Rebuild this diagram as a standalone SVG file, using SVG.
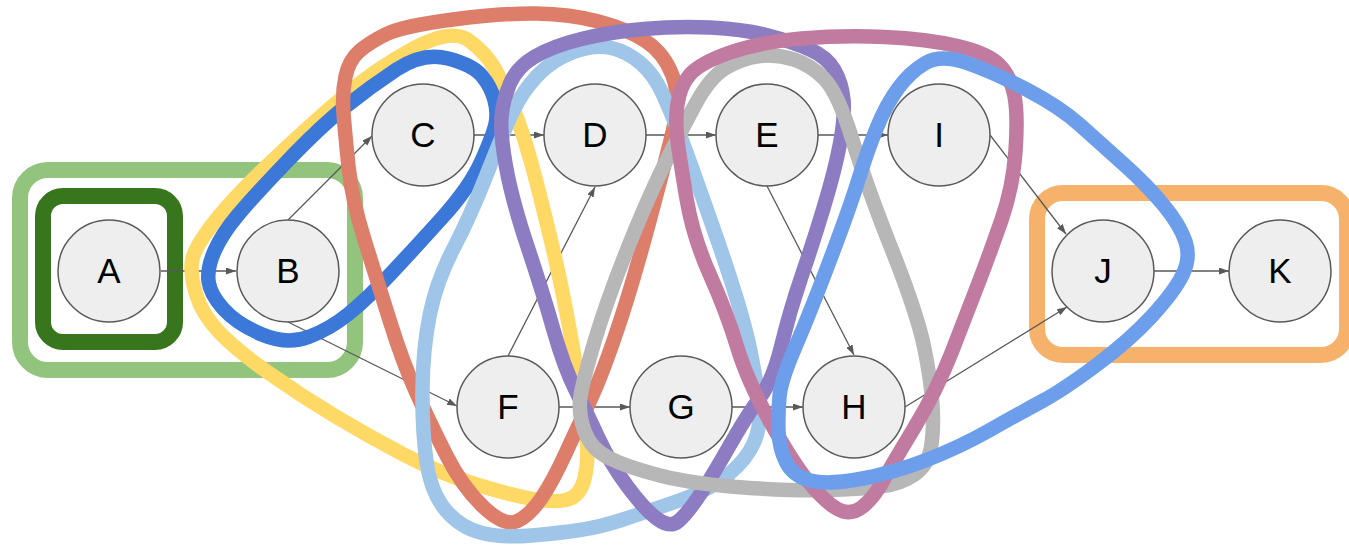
<svg xmlns="http://www.w3.org/2000/svg" width="1349" height="548" viewBox="0 0 1349 548">
<style>
.n circle{fill:#eeeeee;stroke:#595959;stroke-width:1.5}
.n text{font-family:"Liberation Sans",Arial,sans-serif;font-size:35px;fill:#000;text-anchor:middle}
.e line{stroke:#595959;stroke-width:1.3;fill:none;marker-end:url(#arr)}
.g{fill:none;stroke-width:14.5;stroke-linejoin:round}
.r{fill:none;stroke-width:16}
</style>
<defs>
<marker id="arr" markerUnits="userSpaceOnUse" markerWidth="11" markerHeight="8" refX="10" refY="3.5" orient="auto">
<path d="M0,0 L10,3.5 L0,7 z" fill="#595959"/>
</marker>
</defs>
<g id="groups-rect">
<rect id="grp-ab" class="r" x="20" y="170" width="335" height="200" rx="28" stroke="#93c47d"/>
<rect id="grp-a" class="r" x="43" y="196" width="132" height="146" rx="20" stroke="#38761d"/>
<rect id="grp-jk" class="r" x="1037" y="193" width="310" height="162" rx="26" stroke="#f6b26b"/>
</g>
<g id="connectors" class="e">
<line x1="161" y1="271" x2="236" y2="271"/>
<line x1="288" y1="220" x2="372" y2="136"/>
<line x1="288" y1="322" x2="457" y2="406"/>
<line x1="474" y1="135" x2="544" y2="135"/>
<line x1="508" y1="356" x2="595" y2="187"/>
<line x1="646" y1="135" x2="716" y2="135"/>
<line x1="559" y1="407" x2="630" y2="407"/>
<line x1="818" y1="135" x2="888" y2="135"/>
<line x1="767" y1="186" x2="854" y2="355"/>
<line x1="732" y1="407" x2="803" y2="407"/>
<line x1="905" y1="407" x2="1067" y2="307"/>
<line x1="990" y1="135" x2="1066" y2="234"/>
<line x1="1154" y1="271" x2="1229" y2="271"/>
</g>
<g id="A" class="n"><circle cx="109" cy="271" r="51"/><text x="109" y="283">A</text></g>
<g id="B" class="n"><circle cx="288" cy="271" r="51"/><text x="288" y="283">B</text></g>
<g id="C" class="n"><circle cx="423" cy="135" r="51"/><text x="423" y="147">C</text></g>
<g id="D" class="n"><circle cx="595" cy="135" r="51"/><text x="595" y="147">D</text></g>
<g id="E" class="n"><circle cx="767" cy="135" r="51"/><text x="767" y="147">E</text></g>
<g id="I" class="n"><circle cx="939" cy="135" r="51"/><text x="939" y="147">I</text></g>
<g id="F" class="n"><circle cx="508" cy="407" r="51"/><text x="508" y="419">F</text></g>
<g id="G" class="n"><circle cx="681" cy="407" r="51"/><text x="681" y="419">G</text></g>
<g id="H" class="n"><circle cx="854" cy="407" r="51"/><text x="854" y="419">H</text></g>
<g id="J" class="n"><circle cx="1103" cy="271" r="51"/><text x="1103" y="283">J</text></g>
<g id="K" class="n"><circle cx="1280" cy="271" r="51"/><text x="1280" y="283">K</text></g>
<g id="hulls">
<path id="hull-yellow" class="g" stroke="#ffd966" d="M192,261 Q190,274 196,294 Q202,314 219,332 Q236,350 269.5,373.5 Q303,397 336.5,417 Q370,437 403.5,454.5 Q437,472 470,482.5 Q503,493 527.5,498 Q552,503 566,500 Q580,497 584.5,478.5 Q589,460 586.5,436.5 Q584,413 573.5,351.5 Q563,290 550.5,238.5 Q538,187 530.5,160 Q523,133 513.5,109 Q504,85 495,69 Q486,53 469,40.5 Q452,28 414.5,48 Q377,68 343.5,96.5 Q310,125 271.5,161.5 Q233,198 213.5,223 Q194,248 192,261 Z"/>
<path id="hull-blue" class="g" stroke="#3c78d8" d="M208.5,281 Q207,268 214.5,251 Q222,234 237.5,215.5 Q253,197 286.5,162 Q320,127 345,107 Q370,87 396.5,69.5 Q423,52 448,58.5 Q473,65 482,76 Q491,87 494.5,100 Q498,113 495.5,124 Q493,135 481.5,161 Q470,187 441.5,218.5 Q413,250 390.5,274 Q368,298 349,313.5 Q330,329 308.5,337 Q287,345 262,334.5 Q237,324 223.5,309 Q210,294 208.5,281 Z"/>
<path id="hull-red" class="g" stroke="#dd7e6b" d="M348.5,166.5 Q345,133 343.5,113 Q342,93 345.5,76.5 Q349,60 359.5,51 Q370,42 386.5,34 Q403,26 453,19.5 Q503,13 536.5,13.5 Q570,14 598.5,21.5 Q627,29 645.5,41 Q664,53 672.5,75.5 Q681,98 672.5,132.5 Q664,167 647,230 Q630,293 615,336.5 Q600,380 589.5,402 Q579,424 566,452.5 Q553,481 541.5,498 Q530,515 517.5,521 Q505,527 484,507.5 Q463,488 446.5,455.5 Q430,423 416.5,393 Q403,363 390,321.5 Q377,280 364.5,240 Q352,200 348.5,166.5 Z"/>
<path id="hull-lightblue" class="g" stroke="#9fc5e8" d="M426.5,461.5 Q422,430 422.5,388.5 Q423,347 430,313.5 Q437,280 453.5,248.5 Q470,217 486.5,175 Q503,133 512.5,112.5 Q522,92 537,76 Q552,60 573.5,52 Q595,44 611.5,48 Q628,52 641,63.5 Q654,75 662,92.5 Q670,110 678.5,131.5 Q687,153 715,233 Q743,313 750.5,351.5 Q758,390 759.5,408 Q761,426 754,442.5 Q747,459 728.5,474.5 Q710,490 676.5,501.5 Q643,513 621.5,520 Q600,527 580,530 Q560,533 531.5,535.5 Q503,538 482,533 Q461,528 446,510.5 Q431,493 426.5,461.5 Z"/>
<path id="hull-purple" class="g" stroke="#8e7cc3" d="M506,166.5 Q500,133 501.5,116.5 Q503,100 510,83.5 Q517,67 535,56.5 Q553,46 581.5,39 Q610,32 643.5,29 Q677,26 710,27.5 Q743,29 768,35.5 Q793,42 810,49.5 Q827,57 834.5,70 Q842,83 843.5,100 Q845,117 840,143.5 Q835,170 824,206.5 Q813,243 801.5,276.5 Q790,310 781.5,345 Q773,380 760,397.5 Q747,415 728.5,447.5 Q710,480 698,497.5 Q686,515 678,521.5 Q670,528 657.5,519 Q645,510 627.5,486.5 Q610,463 598.5,438 Q587,413 575.5,390 Q564,367 553.5,330 Q543,293 527.5,246.5 Q512,200 506,166.5 Z"/>
<path id="hull-gray" class="g" stroke="#b7b7b7" d="M580.5,396.5 Q583,380 595,340 Q607,300 627,250 Q647,200 663.5,166.5 Q680,133 695,105 Q710,77 726.5,67.5 Q743,58 760,56 Q777,54 794,59.5 Q811,65 824.5,79 Q838,93 852.5,140 Q867,187 892,250 Q917,313 924,346.5 Q931,380 932.5,405 Q934,430 931,447.5 Q928,465 914.5,474.5 Q901,484 880.5,486.5 Q860,489 826.5,490 Q793,491 743,487.5 Q693,484 660,475.5 Q627,467 609,458 Q591,449 584.5,431 Q578,413 580.5,396.5 Z"/>
<path id="hull-mauve" class="g" stroke="#c27ba0" d="M677.5,141 Q675,122 677.5,104 Q680,86 690,74.5 Q700,63 730,52.5 Q760,42 801.5,38.5 Q843,35 885,37 Q927,39 957.5,46 Q988,53 999.5,65 Q1011,77 1014.5,96 Q1018,115 1015.5,151 Q1013,187 1001.5,220 Q990,253 978.5,283 Q967,313 952,351.5 Q937,390 915,426.5 Q893,463 883,481 Q873,499 861.5,507.5 Q850,516 837.5,509 Q825,502 809,482.5 Q793,463 770,421.5 Q747,380 737,346.5 Q727,313 710,275 Q693,237 686.5,198.5 Q680,160 677.5,141 Z"/>
<path id="hull-cornflower" class="g" stroke="#6d9eeb" d="M778.5,430.5 Q778,413 779.5,396.5 Q781,380 795.5,346.5 Q810,313 830,260 Q850,207 858.5,179.5 Q867,152 876.5,128.5 Q886,105 898,88.5 Q910,72 925.5,63 Q941,54 967,63 Q993,72 1026.5,89.5 Q1060,107 1080,125 Q1100,143 1123.5,164 Q1147,185 1163.5,205 Q1180,225 1185.5,241.5 Q1191,258 1182.5,275 Q1174,292 1152,316 Q1130,340 1096.5,365 Q1063,390 1041.5,401.5 Q1020,413 990,430 Q960,447 926.5,460 Q893,473 860,479 Q827,485 810,480.5 Q793,476 786,462 Q779,448 778.5,430.5 Z"/>
</g>
</svg>
